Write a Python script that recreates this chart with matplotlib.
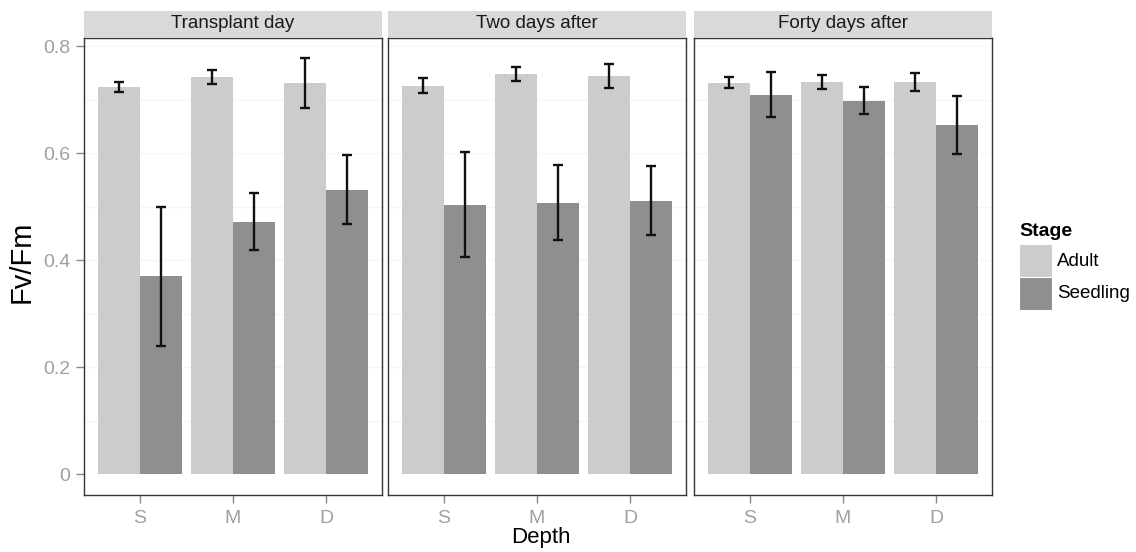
import matplotlib
matplotlib.use("Agg")
import matplotlib.pyplot as plt
from matplotlib.patches import Rectangle
import numpy as np

plt.rcParams['font.family'] = ['Liberation Sans', 'DejaVu Sans']

# ---- data ----
panels = ["Transplant day", "Two days after", "Forty days after"]
depths = ["S", "M", "D"]
stages = ["Adult", "Seedling"]
adult_mean = [[0.723, 0.743, 0.731], [0.726, 0.748, 0.744], [0.732, 0.733, 0.733]]
adult_lo = [[0.714, 0.730, 0.685], [0.713, 0.736, 0.722], [0.722, 0.720, 0.717]]
adult_hi = [[0.733, 0.756, 0.778], [0.740, 0.761, 0.767], [0.742, 0.746, 0.751]]
seed_mean = [[0.370, 0.472, 0.532], [0.503, 0.508, 0.511], [0.709, 0.698, 0.653]]
seed_lo = [[0.240, 0.419, 0.467], [0.406, 0.437, 0.447], [0.668, 0.673, 0.599]]
seed_hi = [[0.500, 0.526, 0.597], [0.602, 0.579, 0.576], [0.752, 0.724, 0.708]]
yticks = [0, 0.2, 0.4, 0.6, 0.8]
ytick_labels = ["0", "0.2", "0.4", "0.6", "0.8"]

colors = {"Adult": "#cccccc", "Seedling": "#8f8f8f"}

W, H = 1136, 552
fig = plt.figure(figsize=(W / 100, H / 100), dpi=100)

def fx(px):
    return px / W

def fy(py):
    return 1 - py / H

panel_left = [84, 388, 694]
panel_w = 298
p_top, p_bot = 38, 495
strip_top, strip_bot = 10.7, 37

x = np.arange(1, 4)
bw = 0.45
tick_col = "#a0a0a0"

for i, name in enumerate(panels):
    ax = fig.add_axes([fx(panel_left[i]), fy(p_bot), fx(panel_w), (p_bot - p_top) / H])
    ax.set_xlim(0.4, 3.6)
    ax.set_ylim(-0.0387, 0.8155)
    # faint grid
    for g in [0.1, 0.2, 0.3, 0.4, 0.5, 0.6, 0.7, 0.8]:
        ax.axhline(g, color="#f5f5f5", lw=0.9, zorder=0.5)
    a_m = np.array(adult_mean[i]); s_m = np.array(seed_mean[i])
    ax.bar(x - bw / 2, a_m, width=bw, color=colors["Adult"], zorder=1)
    ax.bar(x + bw / 2, s_m, width=bw, color=colors["Seedling"], zorder=1)
    ax.errorbar(x - bw / 2, a_m,
                yerr=[a_m - np.array(adult_lo[i]), np.array(adult_hi[i]) - a_m],
                fmt="none", ecolor="#111111", elinewidth=1.7, capsize=3.6, capthick=1.7, zorder=3)
    ax.errorbar(x + bw / 2, s_m,
                yerr=[s_m - np.array(seed_lo[i]), np.array(seed_hi[i]) - s_m],
                fmt="none", ecolor="#111111", elinewidth=1.7, capsize=3.6, capthick=1.7, zorder=3)
    ax.set_xticks(x)
    ax.set_xticklabels(depths, color=tick_col, fontsize=14)
    ax.tick_params(axis="x", length=6, width=1, color="#888888", pad=5)
    if i == 0:
        ax.set_yticks(yticks)
        ax.set_yticklabels(ytick_labels, color=tick_col, fontsize=14)
        ax.tick_params(axis="y", length=6, width=1, color="#888888", pad=4)
    else:
        ax.set_yticks([])
    for sp in ax.spines.values():
        sp.set_color("#333333")
        sp.set_linewidth(1.0)
    # strip
    sax = fig.add_axes([fx(panel_left[i]), fy(strip_bot), fx(panel_w), (strip_bot - strip_top) / H])
    sax.set_facecolor("#d9d9d9")
    sax.set_xticks([]); sax.set_yticks([])
    for sp in sax.spines.values():
        sp.set_visible(False)
    sax.text(0.5, 0.5, name, ha="center", va="center", fontsize=13.5, color="#1a1a1a",
             transform=sax.transAxes)

fig.text(fx(22), fy(262), "Fv/Fm", rotation=90, ha="center", va="center", fontsize=21, color="black")
fig.text(fx(541), fy(538), "Depth", ha="center", va="center", fontsize=16, color="black")

# legend
fig.text(fx(1019), fy(231), "Stage", ha="left", va="center", fontsize=14, fontweight="bold")
key_tops = [244, 277]
for st, kt in zip(stages, key_tops):
    fig.patches.append(Rectangle((fx(1019), fy(kt + 33)), fx(33), 33 / H,
                                 transform=fig.transFigure, facecolor=colors[st],
                                 edgecolor="white", lw=0.8))
    fig.text(fx(1057), fy(kt + 17), st, ha="left", va="center", fontsize=13.5, color="black")

fig.savefig("out.png", dpi=100, facecolor="white")
